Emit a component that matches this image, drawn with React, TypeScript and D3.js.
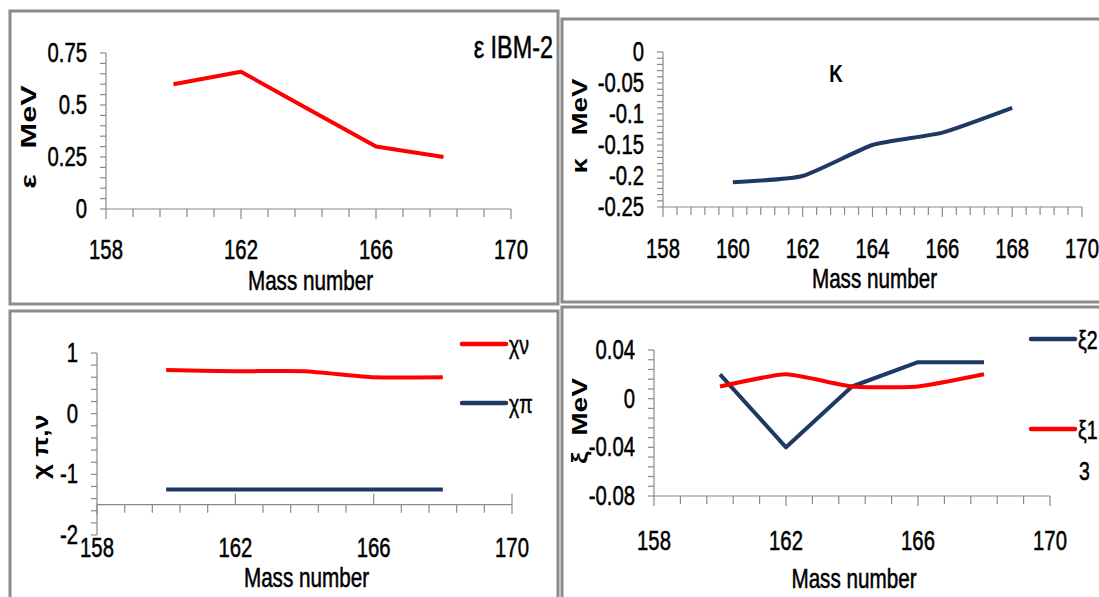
import React from "react";
import * as d3 from "d3";

// mass numbers of the isotopes
const massNumbers = [160, 162, 164, 166, 168];

// IBM-2 parameters (MeV)
const epsilonMeV = [0.6, 0.66, 0.48, 0.3, 0.25];
const kappaMeV = [-0.21, -0.2, -0.15, -0.13, -0.09];
const chiNu = [0.72, 0.7, 0.7, 0.6, 0.6];
const chiPi = [-1.25, -1.25, -1.25, -1.25, -1.25];
const xi2 = [0.02, -0.04, 0.01, 0.03, 0.03];
const xi13 = [0.01, 0.02, 0.01, 0.01, 0.02];

// tick labels
const xTicksWide = [158, 162, 166, 170];
const xTicksFine = [158, 160, 162, 164, 166, 168, 170];
const epsTicks = [0, 0.25, 0.5, 0.75];
const kappaTicks = [0, -0.05, -0.1, -0.15, -0.2, -0.25];
const chiTicks = [1, 0, -1, -2];
const xiTicks = [0.04, 0, -0.04, -0.08];

const RED = "#ff0000";
const NAVY = "#1f3864";
const AXIS = "#8a8a8a";
const BORDER = "#8c8c8c";
const FONT = "'Liberation Sans', Arial, sans-serif";
const SQUEEZE = 0.78; // no condensed font installed, so narrow the regular one

// condensed-looking text: regular font squeezed horizontally
function NText({
  x,
  y,
  size = 26,
  anchor = "start",
  children,
}: {
  x: number;
  y: number;
  size?: number;
  anchor?: "start" | "middle" | "end";
  children: React.ReactNode;
}) {
  return (
    <text
      transform={`translate(${x},${y}) scale(${SQUEEZE},1.05)`}
      textAnchor={anchor}
      fontFamily={FONT}
      fontSize={size}
      fill="#000"
      stroke="#000"
      strokeWidth={0.5}
    >
      {children}
    </text>
  );
}

type Series = { values: number[]; color: string; curve: d3.CurveFactory };

type PanelProps = {
  box: [number, number, number, number];
  xr: [number, number];
  yd: [number, number];
  yr: [number, number];
  xTicks: number[];
  xMinor: number;
  yTicks: number[];
  yMinor: number;
  xAxisAt: number;
  majorUp?: boolean;
  tickBase: number;
  titleBase: number;
  yLabel: string;
  yLabelPos: [number, number];
  yLabelStretch: number;
  series: Series[];
  children?: React.ReactNode;
};

function Panel(p: PanelProps) {
  const x = d3.scaleLinear().domain([158, 170]).range(p.xr);
  const y = d3.scaleLinear().domain(p.yd).range(p.yr);
  const ax = y(p.xAxisAt);
  const x0 = p.xr[0];
  const minorX = d3.range(0, 12 + 1e-6, p.xMinor).map((d) => 158 + d);
  const minorY = d3.range(0, p.yd[1] - p.yd[0] + 1e-9, p.yMinor).map((d) => p.yd[0] + d);
  const isMajor = (v: number) => p.xTicks.some((t) => Math.abs(t - v) < 1e-6);

  return (
    <g>
      <rect x={p.box[0]} y={p.box[1]} width={p.box[2]} height={p.box[3]} fill="#fff" stroke={BORDER} strokeWidth={3} />
      {/* y axis */}
      <line x1={x0} x2={x0} y1={y(p.yd[0])} y2={y(p.yd[1])} stroke={AXIS} strokeWidth={1.2} />
      {minorY.map((v, i) => (
        <line key={"my" + i} x1={x0 - 6} x2={x0} y1={y(v)} y2={y(v)} stroke={AXIS} strokeWidth={1.2} />
      ))}
      {p.yTicks.map((t) => (
        <NText key={"yt" + t} x={x0 - 19} y={y(t) + 9} anchor="end">
          {t}
        </NText>
      ))}
      {/* x axis */}
      <line x1={x0} x2={p.xr[1]} y1={ax} y2={ax} stroke={AXIS} strokeWidth={1.2} />
      {minorX.map((v, i) => {
        const major = isMajor(v);
        if (p.majorUp && major && v > 158.01)
          return <line key={"mx" + i} x1={x(v)} x2={x(v)} y1={ax - 11} y2={ax + (v > 169.9 ? 9 : 0)} stroke={AXIS} strokeWidth={1.2} />;
        return <line key={"mx" + i} x1={x(v)} x2={x(v)} y1={ax} y2={ax + (major ? 10 : 8)} stroke={AXIS} strokeWidth={1.2} />;
      })}
      {p.xTicks.map((t) => (
        <NText key={"xt" + t} x={x(t)} y={p.tickBase} anchor="middle">
          {t}
        </NText>
      ))}
      <NText x={(p.xr[0] + p.xr[1]) / 2 + 2} y={p.titleBase} size={26.5} anchor="middle">
        Mass number
      </NText>
      <text
        transform={`translate(${p.yLabelPos[0]},${p.yLabelPos[1]}) rotate(-90) scale(${p.yLabelStretch},1)`}
        textAnchor="middle"
        fontFamily={FONT}
        fontWeight="bold"
        fontSize={22}
        fill="#000"
        style={{ whiteSpace: "pre" }}
      >
        {p.yLabel}
      </text>
      {p.series.map((s, i) => {
        const line = d3
          .line<number>()
          .x((_, j) => x(massNumbers[j]))
          .y((d) => y(d))
          .curve(s.curve);
        return <path key={"s" + i} d={line(s.values) ?? ""} fill="none" stroke={s.color} strokeWidth={4} strokeLinejoin="round" />;
      })}
      {p.children}
    </g>
  );
}

function LegendItem({ x, y, color, label }: { x: number; y: number; color: string; label: React.ReactNode }) {
  return (
    <g>
      <line x1={x} x2={x + 44} y1={y} y2={y} stroke={color} strokeWidth={4.5} strokeLinecap="round" />
      <NText x={x + 47} y={y + 10} size={25}>
        {label}
      </NText>
    </g>
  );
}

const smooth = d3.curveCardinal.tension(0.5);

export default function App() {
  return (
    <svg width={1099} height={597} style={{ position: "absolute", left: 0, top: 0, background: "#fff" }}>
      <Panel
        box={[10, 11, 548, 293]}
        xr={[106, 511]}
        yd={[0, 0.75]}
        yr={[209, 53]}
        xTicks={xTicksWide}
        xMinor={0.8}
        yTicks={epsTicks}
        yMinor={0.05}
        xAxisAt={0}
        tickBase={259}
        titleBase={290}
        yLabel={"ε   MeV"}
        yLabelPos={[36, 137]}
        yLabelStretch={1.4}
        series={[{ values: epsilonMeV, color: RED, curve: d3.curveLinear }]}
      >
        <NText x={553} y={58} size={30} anchor="end">
          ε IBM-2
        </NText>
      </Panel>

      <Panel
        box={[562, 19, 540, 283]}
        xr={[663, 1082]}
        yd={[-0.25, 0]}
        yr={[207, 52]}
        xTicks={xTicksFine}
        xMinor={0.4}
        yTicks={kappaTicks}
        yMinor={0.01}
        xAxisAt={-0.25}
        tickBase={258}
        titleBase={288}
        yLabel={"κ   MeV"}
        yLabelPos={[587, 126]}
        yLabelStretch={1.25}
        series={[{ values: kappaMeV, color: NAVY, curve: smooth }]}
      >
        <text
          transform="translate(836,82) scale(0.85,1.05)"
          textAnchor="middle"
          fontFamily={FONT}
          fontWeight="bold"
          fontSize={22}
          fill="#000"
        >
          K
        </text>
      </Panel>

      <Panel
        box={[10, 311, 548, 290]}
        xr={[97, 512]}
        yd={[-2, 1]}
        yr={[535, 353]}
        xTicks={xTicksWide}
        xMinor={0.8}
        yTicks={chiTicks}
        yMinor={0.2}
        xAxisAt={-1.5}
        majorUp
        tickBase={557}
        titleBase={587}
        yLabel={"χ π,ν"}
        yLabelPos={[48, 447]}
        yLabelStretch={1.2}
        series={[
          { values: chiNu, color: RED, curve: smooth },
          { values: chiPi, color: NAVY, curve: d3.curveLinear },
        ]}
      >
        <LegendItem x={462} y={344} color={RED} label="χν" />
        <LegendItem x={462} y={403} color={NAVY} label="χπ" />
      </Panel>

      <Panel
        box={[562, 307, 540, 294]}
        xr={[654, 1050]}
        yd={[-0.08, 0.04]}
        yr={[496, 350]}
        xTicks={xTicksWide}
        xMinor={0.8}
        yTicks={xiTicks}
        yMinor={0.008}
        xAxisAt={-0.08}
        tickBase={550}
        titleBase={588}
        yLabel={"ξ  MeV"}
        yLabelPos={[587, 421]}
        yLabelStretch={1.28}
        series={[
          { values: xi2, color: NAVY, curve: d3.curveLinear },
          { values: xi13, color: RED, curve: smooth },
        ]}
      >
        <LegendItem x={1031} y={339} color={NAVY} label="ξ2" />
        <LegendItem x={1031} y={429} color={RED} label="ξ1," />
        <NText x={1079} y={480} size={25}>
          3
        </NText>
      </Panel>
    </svg>
  );
}
